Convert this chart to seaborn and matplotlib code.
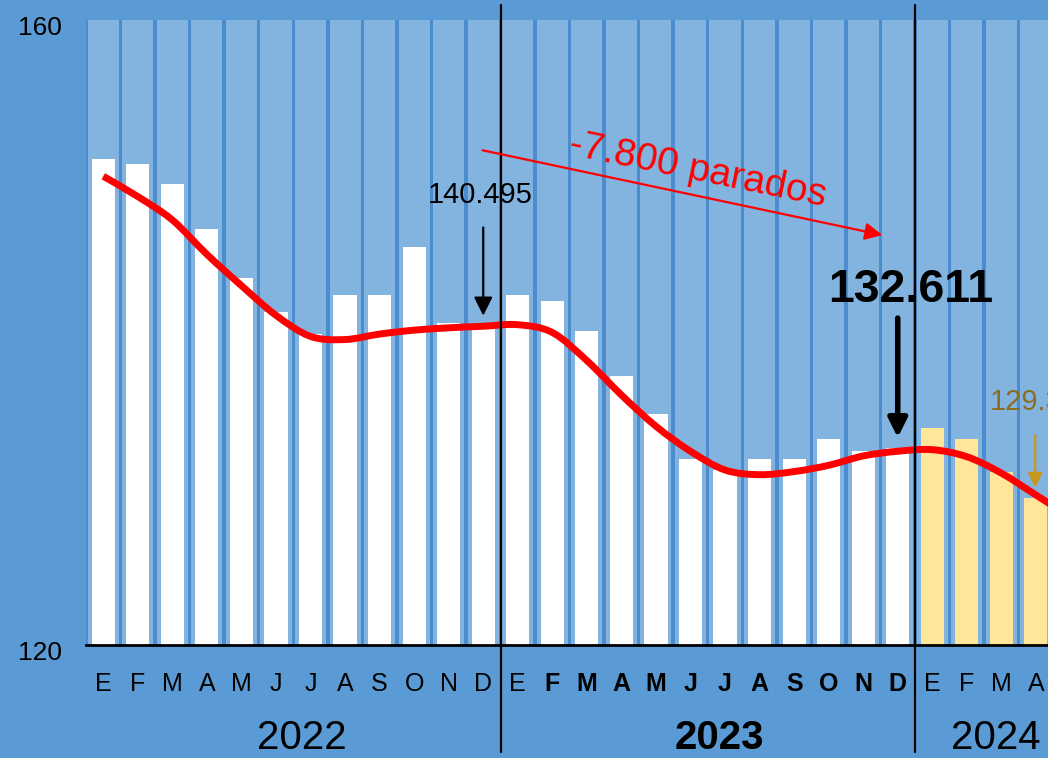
import numpy as np
import pandas as pd
import matplotlib
matplotlib.use("Agg")
import matplotlib.pyplot as plt
from matplotlib.path import Path
from matplotlib.patches import PathPatch
import matplotlib.transforms as mtransforms
import seaborn as sns

# ---------------- data ----------------
month_labels = ["E", "F", "M", "A", "M", "J", "J", "A", "S", "O", "N", "D",
                "E", "F", "M", "A", "M", "J", "J", "A", "S", "O", "N", "D",
                "E", "F", "M", "A"]
years = ["2022"] * 12 + ["2023"] * 12 + ["2024"] * 4
year_labels = ["2022", "2023", "2024"]
values = [151.1, 150.8, 149.5, 146.6, 143.5, 141.3, 139.9, 142.4, 142.4, 145.5, 140.6, 140.5,
          142.4, 142.0, 140.1, 137.2, 134.8, 131.9, 131.2, 131.9, 131.9, 133.2, 132.4, 132.6,
          133.9, 133.2, 131.1, 129.4]
trend = [150.0, 148.7, 147.2, 145.0, 143.0, 141.1, 139.75, 139.55, 139.9, 140.15, 140.3, 140.4,
         140.5, 140.0, 138.2, 136.0, 134.0, 132.4, 131.2, 130.9, 131.1, 131.5, 132.1, 132.4,
         132.5, 132.05, 131.0, 129.6, 128.2]
ymin_val, ymax_val = 120, 160
ann_dec22 = "140.495"
ann_dec23 = "132.611"
ann_2024 = "129.3"
ann_diff = "-7.800 parados"

# ---------------- style ----------------
FIG_BG = "#5b9bd5"
GAP_BG = "#4a8ccd"
SLOT = "#83b3df"
WHITE = "#ffffff"
YELLOW = "#ffe699"

sns.set_theme(style="white")
plt.rcParams["font.family"] = ["Liberation Sans", "DejaVu Sans"]

fig = plt.figure(figsize=(10.48, 7.58), dpi=100, facecolor=FIG_BG)
ax = fig.add_axes([86 / 1048, 113 / 758, 1 - 86 / 1048, (645 - 20) / 758])
ax.set_facecolor(GAP_BG)

n = len(values)
df = pd.DataFrame({"idx": np.arange(n), "value": values, "year": years,
                   "top": [ymax_val] * n})

sns.barplot(data=df, x="idx", y="top", color=SLOT, saturation=1, width=0.9,
            linewidth=0, ax=ax, errorbar=None)
sns.barplot(data=df, x="idx", y="value", hue="year",
            palette={"2022": WHITE, "2023": WHITE, "2024": YELLOW},
            dodge=False, saturation=1, width=0.67, linewidth=0, ax=ax,
            legend=False, errorbar=None)

# smooth trend line (Catmull-Rom rendered as Bezier curves)
tx = np.arange(len(trend), dtype=float)
ty = np.array(trend, dtype=float)
verts = [(tx[0], ty[0])]
codes = [Path.MOVETO]
for k in range(len(tx) - 1):
    p0 = np.array([tx[max(k - 1, 0)], ty[max(k - 1, 0)]])
    p1 = np.array([tx[k], ty[k]])
    p2 = np.array([tx[k + 1], ty[k + 1]])
    p3 = np.array([tx[min(k + 2, len(tx) - 1)], ty[min(k + 2, len(tx) - 1)]])
    c1 = p1 + (p2 - p0) / 6.0
    c2 = p2 - (p3 - p1) / 6.0
    verts += [tuple(c1), tuple(c2), tuple(p2)]
    codes += [Path.CURVE4] * 3
ax.add_patch(PathPatch(Path(verts, codes), fill=False, edgecolor="#ff0000",
                       lw=5.0, capstyle="butt", joinstyle="round", zorder=5))

ax.set_xlim(-0.5, 27.35)
ax.set_ylim(ymin_val, ymax_val)
for s in ["top", "right", "left"]:
    ax.spines[s].set_visible(False)
ax.spines["bottom"].set_color("black")
ax.spines["bottom"].set_linewidth(2.0)
ax.set_xlabel("")
ax.set_ylabel("")
ax.set_xticks([])
ax.set_yticks([])

# y labels
off = mtransforms.ScaledTranslation(0, -6 / 72, fig.dpi_scale_trans)
ytr = mtransforms.blended_transform_factory(fig.transFigure, ax.transData) + off
for v in (ymin_val, ymax_val):
    ax.text(40 / 1048, v, str(v), transform=ytr, ha="center", va="center",
            fontsize=19, color="black")

# month labels
xtr = mtransforms.blended_transform_factory(ax.transData, fig.transFigure)
for i, m in enumerate(month_labels):
    bold = years[i] == "2023" and i > 12
    ax.text(i, 1 - 684 / 758, m, transform=xtr, ha="center", va="center",
            fontsize=18, fontweight="bold" if bold else "normal", color="black",
            clip_on=False)
for pos, lab in zip([5.75, 17.85, 25.85], year_labels):
    ax.text(pos, 1 - 738 / 758, lab, transform=xtr, ha="center", va="center",
            fontsize=29, fontweight="bold" if lab == "2023" else "normal",
            color="black", clip_on=False)

# year separators
for xv in (11.5, 23.5):
    ax.axvline(xv, ymin=(645 - 752) / 625, ymax=(645 - 5) / 625, color="black",
               lw=1.6, clip_on=False, zorder=6)

# annotations
ax.annotate("", xy=(11.0, 140.9), xytext=(11.0, 146.9),
            arrowprops=dict(arrowstyle="-|>", color="black", lw=1.6,
                            mutation_scale=28), zorder=7)
ax.text(10.9, 148.8, ann_dec22, ha="center", va="center", fontsize=21, color="black")

ax.annotate("", xy=(22.63, 146.2), xytext=(10.9, 151.7),
            arrowprops=dict(arrowstyle="-|>", color="#ff0000", lw=1.6,
                            mutation_scale=26), zorder=7)
ax.text(17.2, 150.4, ann_diff, ha="center", va="center", fontsize=28,
        color="#ff0000", rotation=-11.5)

ax.annotate("", xy=(23.0, 133.1), xytext=(23.0, 141.1),
            arrowprops=dict(arrowstyle="-|>", color="black", lw=4.0,
                            mutation_scale=28), zorder=7)
ax.text(23.38, 142.7, ann_dec23, ha="center", va="center", fontsize=33.5,
        fontweight="bold", color="black")

ax.annotate("", xy=(26.98, 129.9), xytext=(26.98, 133.6),
            arrowprops=dict(arrowstyle="-|>", color="#c9971c", lw=1.6,
                            mutation_scale=22), zorder=7)
ax.text(25.67, 135.55, ann_2024, ha="left", va="center", fontsize=21,
        color="#8c6d1f", clip_on=False)

fig.savefig("out.png", dpi=100, facecolor=FIG_BG)
